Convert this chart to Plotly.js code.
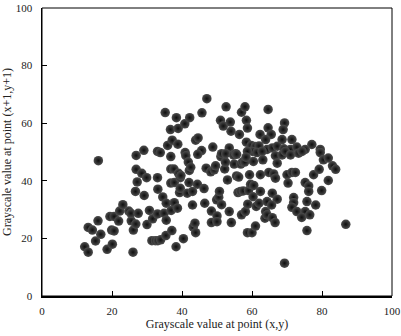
<!DOCTYPE html>
<html><head><meta charset="utf-8">
<script src="https://cdn.plot.ly/plotly-3.0.1.min.js"></script>
<style>html,body{margin:0;padding:0;background:#fff}#chart{width:401px;height:336px}</style>
</head><body><div id="chart"></div>
<script>
// Grayscale value at point (x,y)
const xValues = [
12.2,13.2,13.2,14.4,15.3,16.0,16.1,16.8,18.6,19.4,19.9,20.1,20.6,20.6,21.9,22.2,23.1,24.8,25.5,25.4,
26.1,26.0,26.8,26.7,26.9,26.9,27.2,27.5,28.5,29.1,29.2,29.9,30.0,30.7,31.4,31.6,32.4,33.0,33.0,33.1,
33.0,33.1,33.9,33.8,34.5,34.9,35.2,35.5,35.5,35.4,
35.9,36.7,37.2,38.4,38.9,38.8,40.8,42.2,43.9,44.6,45.7,47.1,48.8,51.0,51.8,52.6,53.5,53.8,54.0,56.4,
57.0,58.0,58.4,58.7,58.4,59.8,60.9,62.0,62.3,64.6,64.6,65.5,63.9,68.6,69.3,68.9,71.4,77.1,79.5,64.3,
65.8,67.2,69.1,71.0,72.8,75.2,45.6,60.2,58.7,
36.8,36.8,36.8,36.9,37.1,37.7,37.8,37.8,38.3,38.7,39.0,39.3,39.5,39.5,39.7,40.4,40.9,41.1,41.5,41.8,
42.0,42.1,42.5,43.0,43.0,43.2,43.7,43.9,44.4,44.5,46.3,46.5,46.9,48.2,48.4,48.4,49.2,49.6,49.9,50.0,
50.0,50.5,50.7,51.1,51.3,51.3,52.2,52.4,52.5,53.0,53.5,54.1,54.7,54.9,55.3,55.6,55.6,56.0,56.2,56.7,
56.8,57.0,57.3,57.5,57.9,58.1,58.3,58.7,58.8,59.0,59.3,59.6,60.0,60.3,60.4,60.5,61.0,61.2,61.4,
62.9,63.1,66.7,67.2,68.6,69.5,71.0,73.3,74.3,79.5,80.4,81.8,83.0,83.9,77.6,79.2,62.4,64.8,66.2,66.7,
70.0,71.4,72.4,70.3,75.2,76.2,76.2,79.9,81.8,62.4,65.8,67.2,62.0,71.9,71.9,71.4,75.7,78.2,64.3,65.6,
63.9,72.8,75.2,
63.7,64.3,65.8,66.6,69.3,74.2,75.7,76.5,86.8
];
// Grayscale value at point (x+1,y+1)
const yValues = [
17.1,15.2,23.8,22.9,19.1,26.1,47.0,21.4,16.2,27.6,22.9,18.0,22.6,27.6,26.0,29.5,31.7,29.5,26.1,28.7,
22.9,15.2,25.0,36.3,44.0,48.8,39.6,28.7,42.6,50.6,34.9,41.1,24.8,29.7,19.2,26.8,19.2,50.2,41.1,37.1,
28.5,19.2,19.5,49.8,34.4,28.7,63.7,26.3,32.2,21.0,
52.3,57.8,54.1,61.9,58.2,52.7,59.8,61.9,54.1,54.9,63.6,68.5,51.7,61.0,59.0,65.7,51.4,60.4,57.2,56.1,
63.8,65.7,61.0,58.3,53.4,52.3,51.9,52.1,56.1,64.8,58.4,56.1,54.3,54.3,60.1,57.8,54.3,52.6,50.9,50.9,
51.4,52.0,51.1,50.9,51.7,50.9,50.5,50.2,50.2,
48.4,44.1,39.2,29.7,22.7,44.1,39.4,32.4,17.1,30.5,42.6,35.9,37.4,41.1,41.8,19.9,49.8,48.7,35.7,46.5,
39.4,43.6,44.7,36.3,31.6,23.9,25.3,22.0,38.8,49.2,37.3,32.2,44.4,43.1,29.5,25.5,43.8,45.2,33.4,27.8,
25.8,34.3,36.3,48.4,49.4,31.7,44.1,46.5,49.4,40.3,29.3,25.5,49.0,45.8,49.4,49.2,41.7,35.9,41.3,36.3,
45.8,28.2,46.5,36.5,46.5,29.3,48.2,22.0,31.9,36.6,42.1,38.8,22.0,34.5,46.7,38.4,24.3,31.1,49.8,
50.2,47.3,48.7,46.1,49.0,50.2,49.0,49.6,50.2,49.8,47.3,47.9,45.2,44.0,42.1,44.0,42.1,42.9,42.4,40.9,
42.1,42.9,42.9,39.2,39.4,38.2,36.3,36.6,40.1,36.3,35.7,33.6,32.2,34.2,32.4,30.8,32.8,31.6,32.8,31.6,
29.3,29.3,29.3,
27.0,28.2,27.2,25.5,11.4,27.3,22.7,28.2,24.9
];
const tickValues = [0, 20, 40, 60, 80, 100];
const tickLabels = ['0', '20', '40', '60', '80', '100'];
const xTitle = 'Grayscale value at point (x,y)';
const yTitle = 'Grayscale value at point (x+1,y+1)';

const serif = 'Liberation Serif, Times New Roman, serif';
const trace = {
  type: 'scatter', mode: 'markers', x: xValues, y: yValues, cliponaxis: false,
  marker: {size: 9.5, color: '#4e4e4e', gradient: {type: 'radial', color: '#0e0e0e'}, line: {width: 0}},
  hoverinfo: 'skip'
};
const axisCommon = {
  range: [0, 100], tickmode: 'array', tickvals: tickValues, ticktext: tickLabels,
  ticks: 'inside', ticklen: 5, tickwidth: 1, tickcolor: '#000',
  showline: true, linecolor: '#000', linewidth: 1.5, mirror: false,
  showgrid: false, zeroline: false, ticklabeloverflow: 'allow',
  tickfont: {family: serif, size: 11, color: '#222'}
};
const layout = {
  width: 401, height: 336,
  margin: {l: 42, r: 9, t: 8, b: 40},
  paper_bgcolor: '#fff', plot_bgcolor: '#fff',
  showlegend: false,
  xaxis: Object.assign({}, axisCommon, {
    ticklabelstandoff: 4,
    title: {text: xTitle, font: {family: serif, size: 12, color: '#222'}, standoff: 4}
  }),
  yaxis: Object.assign({}, axisCommon, {
    ticklabelstandoff: 6,
    title: {text: yTitle, font: {family: serif, size: 12, color: '#222'}, standoff: 6}
  }),
  shapes: [{type: 'rect', xref: 'paper', yref: 'paper', x0: 0, x1: 1, y0: 0, y1: 1,
            line: {color: '#000', width: 1}, layer: 'above'}]
};
Plotly.newPlot('chart', [trace], layout, {displayModeBar: false, staticPlot: true});
</script></body></html>
